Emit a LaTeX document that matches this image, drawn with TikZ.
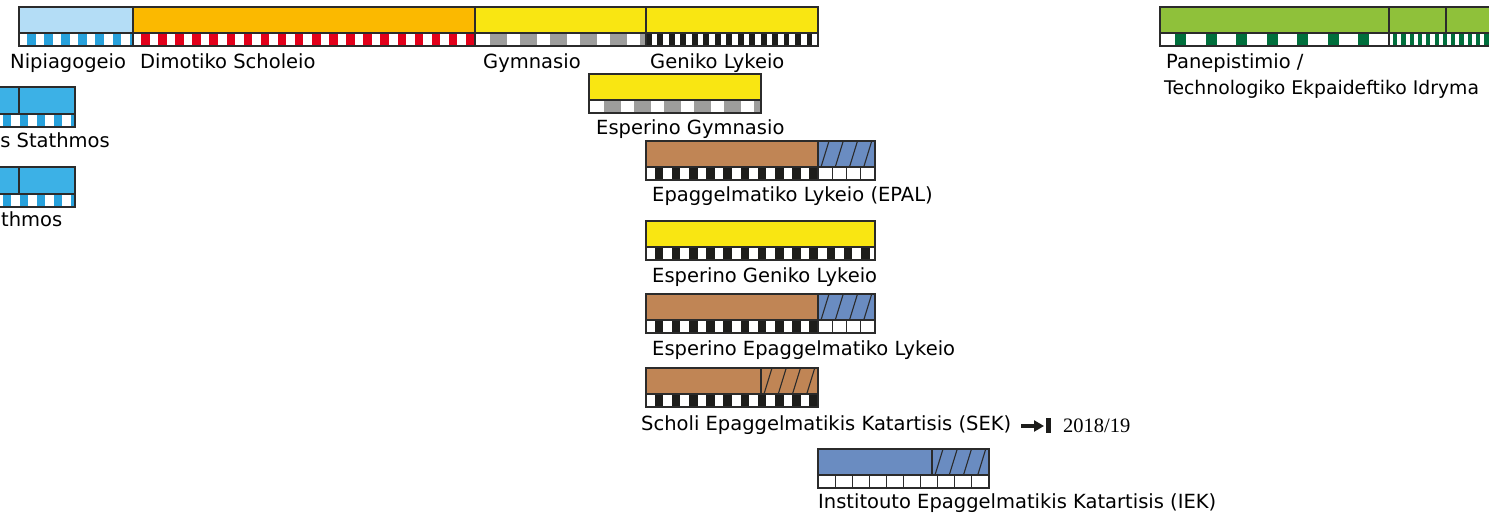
\documentclass[tikz,border=0pt]{standalone}
\usepackage{fontspec}
\setmainfont{DejaVu Sans}
\newfontfamily\yearfont{Liberation Serif}
\usetikzlibrary{arrows.meta}

\definecolor{nipblue}{HTML}{B4DDF6}
\definecolor{boxblue}{HTML}{3CB1E6}
\definecolor{stripeblue}{HTML}{27A1DC}
\definecolor{schoolorange}{HTML}{FBB900}
\definecolor{schoolred}{HTML}{E2001A}
\definecolor{schoolyellow}{HTML}{F9E612}
\definecolor{stripegrey}{HTML}{9D9D9C}
\definecolor{stripeblack}{HTML}{1D1D1B}
\definecolor{unigreen}{HTML}{8FC13A}
\definecolor{darkgreen}{HTML}{006F3C}
\definecolor{vocbrown}{HTML}{C08555}
\definecolor{vocblue}{HTML}{6A8CC1}
\definecolor{edgegrey}{HTML}{2B2B2B}

% striped row under a bar: x1, x2, top, period, block width, offset, colour
\newcommand{\stripes}[7]{%
  \begin{scope}
    \clip (#1,#3) rectangle (#2,#3+13);
    \fill[white] (#1,#3) rectangle (#2,#3+13);
    \foreach \k in {0,...,30}
      \fill[#7] ({#1+#6+\k*#4},#3) rectangle ++(#5,13);
  \end{scope}
  \draw[edge] (#1,#3) rectangle (#2,#3+13);
}
% white cells: x1, x2, top, number of cells
\newcommand{\cells}[4]{%
  \filldraw[edge, fill=white] (#1,#3) rectangle (#2,#3+13);
  \foreach \k in {1,...,#4}
    \draw[edge] ({#1+(#2-#1)*\k/#4},#3) -- ++(0,13);
}
% hatching of the part-time section: x1, x2, top
\newcommand{\hatch}[3]{%
  \begin{scope}
    \clip (#1,#3) rectangle (#2,#3+26);
    \foreach \k in {0,...,3}
      \draw[edge] ({#1+3+\k*(#2-#1)/4},#3+26) -- ++(8,-26);
  \end{scope}
  \draw[edge] (#1,#3) rectangle (#2,#3+26);
}

\begin{document}
\begin{tikzpicture}[x=1pt, y=-1pt,
    edge/.style={draw=edgegrey, line width=1.1pt},
    lbl/.style={anchor=base west, inner sep=0pt, font=\fontsize{19.5}{23}\selectfont}]
  \clip (0,0) rectangle (1489,513);
  \fill[white] (0,0) rectangle (1489,513);

  % top row
  \filldraw[edge, fill=nipblue] (19,7) rectangle (133,33);
  \filldraw[edge, fill=schoolorange] (133,7) rectangle (475,33);
  \filldraw[edge, fill=schoolyellow] (475,7) rectangle (646,33);
  \filldraw[edge, fill=schoolyellow] (646,7) rectangle (818,33);
  \stripes{19}{133}{33}{17.1}{8.5}{8}{stripeblue}
  \stripes{133}{475}{33}{17.1}{8.5}{8}{schoolred}
  \stripes{475}{646}{33}{30}{17}{15}{stripegrey}
  \stripes{646}{818}{33}{11.47}{5.8}{0}{stripeblack}
  \node[lbl] (nipiagogeio) at (10,69) {Nipiagogeio};
  \node[lbl] (dimotiko) at (140,69) {Dimotiko Scholeio};
  \node[lbl] (gymnasio) at (483,69) {Gymnasio};
  \node[lbl] (lykeio) at (650,69) {Geniko Lykeio};

  % university
  \filldraw[edge, fill=unigreen] (1160,7) rectangle (1389,33);
  \filldraw[edge, fill=unigreen] (1389,7) rectangle (1446,33);
  \filldraw[edge, fill=unigreen] (1446,7) rectangle (1500,33);
  \stripes{1160}{1389}{33}{30.5}{11}{15}{darkgreen}
  \stripes{1389}{1500}{33}{8.3}{4.2}{4}{darkgreen}
  \node[lbl] (panepistimio) at (1166,69) {Panepistimio /};
  \node[lbl, font=\fontsize{18.8}{23}\selectfont] (tei) at (1164,95) {Technologiko Ekpaideftiko Idryma};

  % left boxes
  \filldraw[edge, fill=boxblue] (-2,87) rectangle (19,114);
  \filldraw[edge, fill=boxblue] (19,87) rectangle (75,114);
  \stripes{-2}{75}{114}{17.1}{8}{5}{stripeblue}
  \node[lbl, anchor=base east] (stathmos) at (110,148) {s Stathmos};
  \filldraw[edge, fill=boxblue] (-2,167) rectangle (19,194);
  \filldraw[edge, fill=boxblue] (19,167) rectangle (75,194);
  \stripes{-2}{75}{194}{17.1}{8}{5}{stripeblue}
  \node[lbl] (thmos) at (1,227) {thmos};

  % evening gymnasio
  \filldraw[edge, fill=schoolyellow] (589,74) rectangle (761,100);
  \stripes{589}{761}{100}{30}{17}{15}{stripegrey}
  \node[lbl] (espgymnasio) at (596,135) {Esperino Gymnasio};

  % EPAL
  \filldraw[edge, fill=vocbrown] (646,141) rectangle (818,167);
  \filldraw[edge, fill=vocblue] (818,141) rectangle (875,167);
  \hatch{818}{875}{141}
  \stripes{646}{818}{167}{17.2}{8.6}{8.6}{stripeblack}
  \cells{818}{875}{167}{4}
  \node[lbl] (epal) at (652,202) {Epaggelmatiko Lykeio (EPAL)};

  % evening lykeio
  \filldraw[edge, fill=schoolyellow] (646,221) rectangle (875,247);
  \stripes{646}{875}{247}{17.2}{8.6}{8.6}{stripeblack}
  \node[lbl] (esplykeio) at (652,282) {Esperino Geniko Lykeio};

  % evening EPAL
  \filldraw[edge, fill=vocbrown] (646,294) rectangle (818,320);
  \filldraw[edge, fill=vocblue] (818,294) rectangle (875,320);
  \hatch{818}{875}{294}
  \stripes{646}{818}{320}{17.2}{8.6}{8.6}{stripeblack}
  \cells{818}{875}{320}{4}
  \node[lbl] (espepal) at (652,355) {Esperino Epaggelmatiko Lykeio};

  % SEK
  \filldraw[edge, fill=vocbrown] (646,368) rectangle (761,394);
  \filldraw[edge, fill=vocbrown] (761,368) rectangle (818,394);
  \hatch{761}{818}{368}
  \stripes{646}{818}{394}{17.2}{8.6}{8.6}{stripeblack}
  \node[lbl] (sek) at (641,430) {Scholi Epaggelmatikis Katartisis (SEK)};
  \coordinate (arrowstart) at (1021,426);
  \coordinate (arrowend) at (1044,426);
  \draw[stripeblack, line width=3.4pt, -{Triangle[length=10pt,width=11pt]}] (arrowstart) -- (arrowend);
  \fill[stripeblack] (1046,418) rectangle (1050.5,433);
  \node[anchor=base west, inner sep=0pt, font=\yearfont\fontsize{20.5}{24}\selectfont] (year) at (1063,432) {2018/19};

  % IEK
  \filldraw[edge, fill=vocblue] (818,449) rectangle (932,475);
  \filldraw[edge, fill=vocblue] (932,449) rectangle (989,475);
  \hatch{932}{989}{449}
  \cells{818}{989}{475}{10}
  \node[lbl] (iek) at (818,508) {Institouto Epaggelmatikis Katartisis (IEK)};
\end{tikzpicture}
\end{document}
